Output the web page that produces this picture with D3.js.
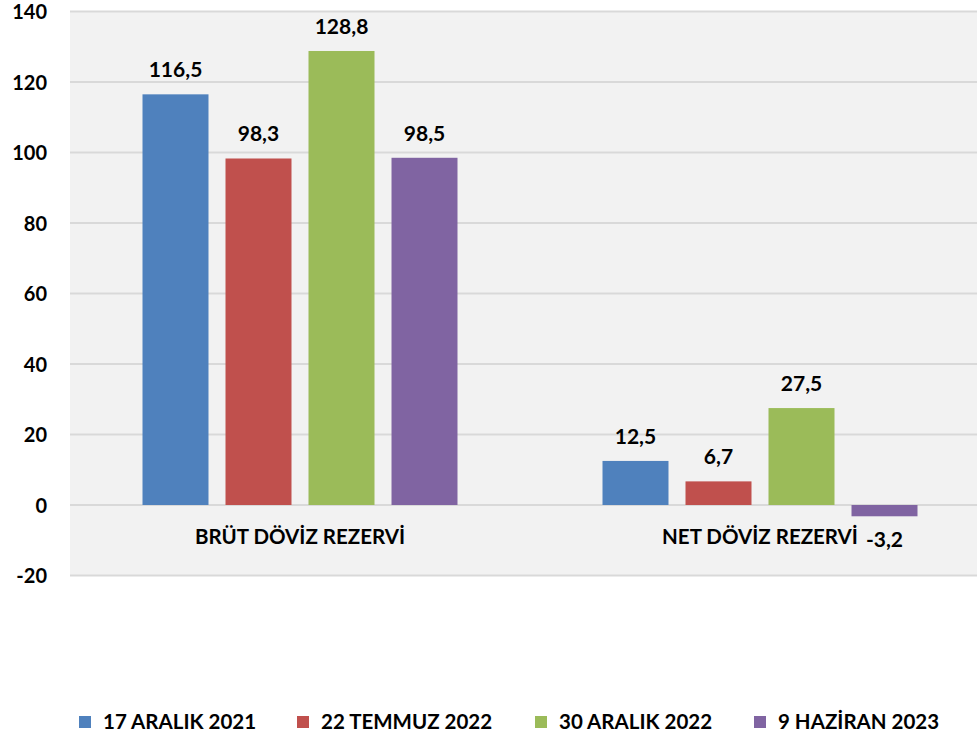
<!DOCTYPE html>
<html>
<head>
  <meta charset="UTF-8">
  <title>Döviz Rezervi</title>
  <script src="https://d3js.org/d3.v7.min.js"></script>
  <style>
    body { margin: 0; background: #fff; }
    svg text { font-family: Lato, "Open Sans", sans-serif; font-weight: bold; fill: #000; }
  </style>
</head>
<body>
<script>
  // chart data
  var categories = ["BRÜT DÖVİZ REZERVİ", "NET DÖVİZ REZERVİ"];
  var seriesNames = ["17 ARALIK 2021", "22 TEMMUZ 2022", "30 ARALIK 2022", "9 HAZİRAN 2023"];
  var seriesColors = ["#4f81bd", "#c0504d", "#9bbb59", "#8064a2"];
  var values = [
    [116.5, 12.5],
    [98.3, 6.7],
    [128.8, 27.5],
    [98.5, -3.2]
  ];
  var yTicks = [-20, 0, 20, 40, 60, 80, 100, 120, 140];

  var width = 977, height = 735;
  var plot = { left: 70, right: 990, top: 11.5, bottom: 575.5 };

  // plain hyphen for negatives, comma as decimal mark
  function fmt(v, digits) {
    return v.toFixed(digits).replace(".", ",");
  }

  var svg = d3.select("body").append("svg")
    .attr("width", width)
    .attr("height", height);

  var y = d3.scaleLinear().domain([-20, 140]).range([plot.bottom, plot.top]);

  var x0 = d3.scaleBand().domain(categories).range([plot.left, plot.right]).padding(0);
  var x1 = d3.scaleBand().domain(seriesNames)
    .range([72.5, x0.bandwidth() - 72.5])
    .paddingInner(0.205).paddingOuter(0);

  // plot background
  svg.append("rect")
    .attr("x", plot.left).attr("y", plot.top)
    .attr("width", plot.right - plot.left)
    .attr("height", plot.bottom - plot.top)
    .attr("fill", "#f2f2f2");

  // gridlines
  svg.append("g").selectAll("line").data(yTicks).join("line")
    .attr("x1", plot.left).attr("x2", plot.right)
    .attr("y1", function (d) { return y(d); })
    .attr("y2", function (d) { return y(d); })
    .attr("stroke", "#d9d9d9").attr("stroke-width", 2);

  // y axis labels
  var yAxis = svg.append("g")
    .attr("transform", "translate(" + plot.left + ",0)")
    .call(d3.axisLeft(y).tickValues(yTicks).tickSize(0).tickPadding(23)
      .tickFormat(function (d) { return fmt(d, 0); }));
  yAxis.select(".domain").remove();
  yAxis.selectAll("text")
    .attr("dy", "0.36em")
    .style("font-size", "20px").style("font-family", "Lato, sans-serif");

  // bars
  var rows = [];
  seriesNames.forEach(function (s, i) {
    categories.forEach(function (c, j) {
      rows.push({ series: s, cat: c, value: values[i][j], color: seriesColors[i] });
    });
  });

  svg.append("g").selectAll("rect").data(rows).join("rect")
    .attr("x", function (d) { return x0(d.cat) + x1(d.series); })
    .attr("y", function (d) { return y(Math.max(0, d.value)); })
    .attr("width", x1.bandwidth())
    .attr("height", function (d) { return Math.abs(y(d.value) - y(0)); })
    .attr("fill", function (d) { return d.color; });

  // value labels
  svg.append("g").selectAll("text").data(rows).join("text")
    .attr("x", function (d) { return x0(d.cat) + x1(d.series) + x1.bandwidth() / 2; })
    .attr("y", function (d) {
      return d.value >= 0 ? y(d.value) - 17 : y(d.value) + 31;
    })
    .attr("text-anchor", "middle")
    .style("font-size", "21px")
    .text(function (d) { return fmt(d.value, 1); });

  // category labels
  svg.append("g").selectAll("text").data(categories).join("text")
    .attr("x", function (d) { return x0(d) + x0.bandwidth() / 2; })
    .attr("y", 544)
    .attr("text-anchor", "middle")
    .style("font-size", "20.5px")
    .text(function (d) { return d; });

  // legend
  var legendX = [79, 297, 535, 754];
  var legend = svg.append("g").selectAll("g").data(seriesNames).join("g")
    .attr("transform", function (d, i) { return "translate(" + legendX[i] + ",716)"; });
  legend.append("rect")
    .attr("width", 12).attr("height", 12)
    .attr("fill", function (d, i) { return seriesColors[i]; });
  legend.append("text")
    .attr("x", 24).attr("y", 12.5)
    .style("font-size", "20.5px")
    .text(function (d) { return d; });
</script>
</body>
</html>
